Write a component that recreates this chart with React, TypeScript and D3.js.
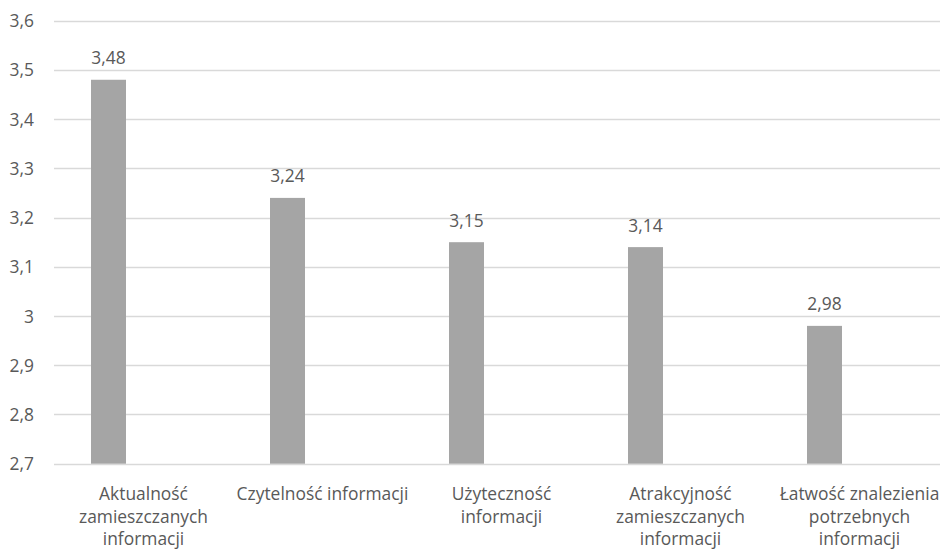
import React from "react";
import * as d3 from "d3";

const categories: string[] = [
  "Aktualność\nzamieszczanych\ninformacji",
  "Czytelność informacji",
  "Użyteczność\ninformacji",
  "Atrakcyjność\nzamieszczanych\ninformacji",
  "Łatwość znalezienia\npotrzebnych\ninformacji",
];
const values: number[] = [3.48, 3.24, 3.15, 3.14, 2.98];
const seriesSlots: string[] = ["s1", "s2", "s3"];
const yTicks: number[] = [2.7, 2.8, 2.9, 3.0, 3.1, 3.2, 3.3, 3.4, 3.5, 3.6];

const W = 940;
const H = 550;
const FONT = "'Open Sans', 'Noto Sans', sans-serif";
const FS = 17.4;
const fmt = (v: number) => (Math.round(v * 100) / 100).toString().replace(".", ",");

export default function App() {
  const x = d3.scaleBand<number>().domain(d3.range(categories.length)).range([54, 949]).padding(0);
  const x1 = d3.scaleBand<string>().domain(seriesSlots).range([0, x.bandwidth()]).paddingInner(0).paddingOuter(1.057);
  const y = d3.scaleLinear().domain([2.7, 3.6]).range([463.7, 20.7]);

  return (
    <svg width={W} height={H} style={{ position: "absolute", left: 0, top: 0, background: "#fff" }}>
      {yTicks.map((t) => (
        <g key={t}>
          <line x1={54} x2={W} y1={Math.round(y(t)) + 0.5} y2={Math.round(y(t)) + 0.5} stroke="#d9d9d9" strokeWidth={1.3} />
          <text x={34} y={y(t) + 6.5} textAnchor="end" fontFamily={FONT} fontSize={FS} fill="#595959">
            {fmt(t)}
          </text>
        </g>
      ))}
      {values.map((v, i) => {
        const bx = (x(i) as number) + (x1("s1") as number);
        const bw = x1.bandwidth();
        return (
          <g key={i}>
            <rect x={bx} y={y(v)} width={bw} height={y(2.7) - y(v)} fill="#a5a5a5" />
            <text x={bx + bw / 2} y={y(v) - 15.5} textAnchor="middle" fontFamily={FONT} fontSize={FS} fill="#595959">
              {fmt(v)}
            </text>
          </g>
        );
      })}
      {categories.map((c, i) => {
        const cx = (x(i) as number) + x.bandwidth() / 2;
        return (
          <text key={i} textAnchor="middle" fontFamily={FONT} fontSize={FS} fill="#595959">
            {c.split("\n").map((line, j) => (
              <tspan key={j} x={cx} y={500 + j * 22.5}>
                {line}
              </tspan>
            ))}
          </text>
        );
      })}
    </svg>
  );
}
